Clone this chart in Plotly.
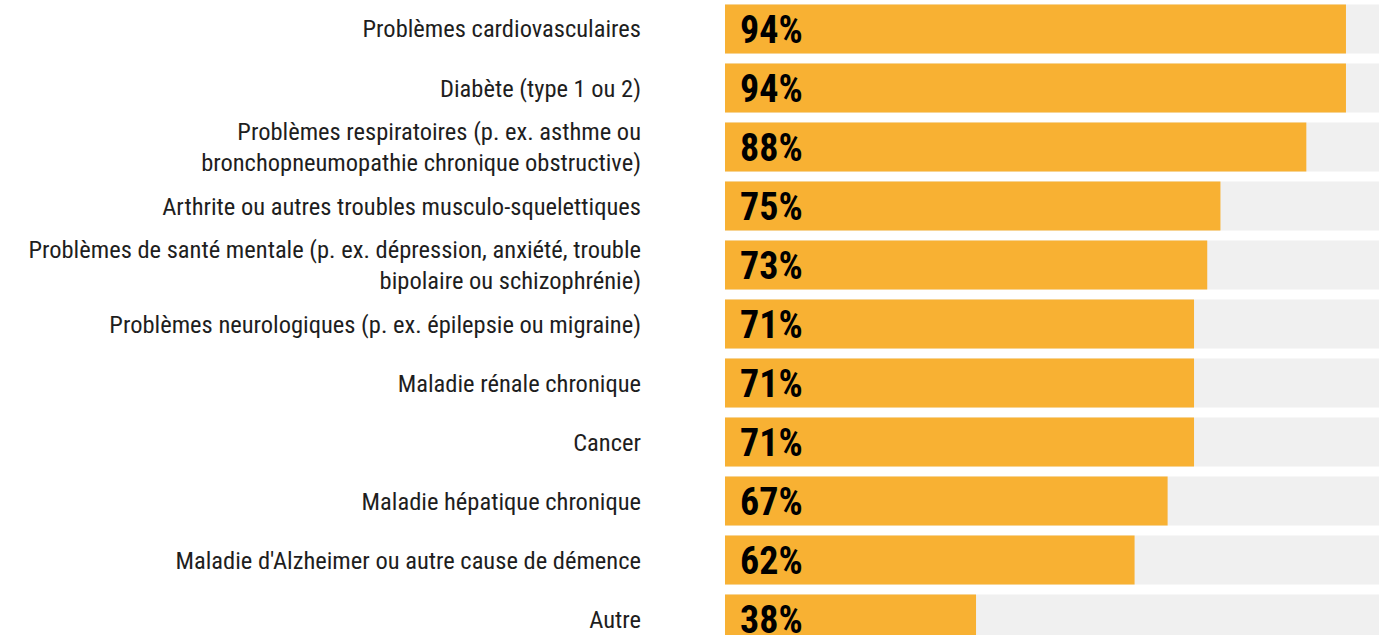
import plotly.graph_objects as go

categories = [
    "Problèmes cardiovasculaires",
    "Diabète (type 1 ou 2)",
    "Problèmes respiratoires (p. ex. asthme ou<br>bronchopneumopathie chronique obstructive)",
    "Arthrite ou autres troubles musculo-squelettiques",
    "Problèmes de santé mentale (p. ex. dépression, anxiété, trouble<br>bipolaire ou schizophrénie)",
    "Problèmes neurologiques (p. ex. épilepsie ou migraine)",
    "Maladie rénale chronique",
    "Cancer",
    "Maladie hépatique chronique",
    "Maladie d'Alzheimer ou autre cause de démence",
    "Autre",
]
values = [94, 94, 88, 75, 73, 71, 71, 71, 67, 62, 38]
full = [100] * len(values)

LABEL_FONT = "Roboto Condensed, DejaVu Sans Condensed, sans-serif"

fig = go.Figure()
fig.add_trace(go.Bar(x=full, y=categories, orientation="h", width=0.83,
                     marker=dict(color="#f0f0f0", line=dict(width=0)),
                     hoverinfo="skip", showlegend=False))
fig.add_trace(go.Bar(x=values, y=categories, orientation="h", width=0.83,
                     marker=dict(color="#f8b133", line=dict(width=0)),
                     showlegend=False))

for c, v in zip(categories, values):
    fig.add_annotation(x=0, y=c, xref="x", yref="y", text=f"<b>{v}%</b>",
                       showarrow=False, xanchor="left", yanchor="middle",
                       xshift=13, yshift=-1,
                       font=dict(family=LABEL_FONT, size=38, color="#000000"))

fig.update_layout(
    barmode="overlay",
    plot_bgcolor="white",
    paper_bgcolor="white",
    margin=dict(l=725, r=0, t=0, b=0),
    xaxis=dict(range=[0, 99], visible=False, fixedrange=True),
    yaxis=dict(type="category", range=[10.27, -0.49], showgrid=False,
               zeroline=False, showline=False, ticks="",
               ticklabelstandoff=83,
               tickfont=dict(family=LABEL_FONT, size=24.5, color="#1e1e1e")),
)

fig.write_html(
    "out.html",
    config={"displayModeBar": False},
    post_script="document.body.style.margin='0';document.body.style.overflow='hidden';"
                "Plotly.Plots.resize(document.getElementById('{plot_id}'));",
)
